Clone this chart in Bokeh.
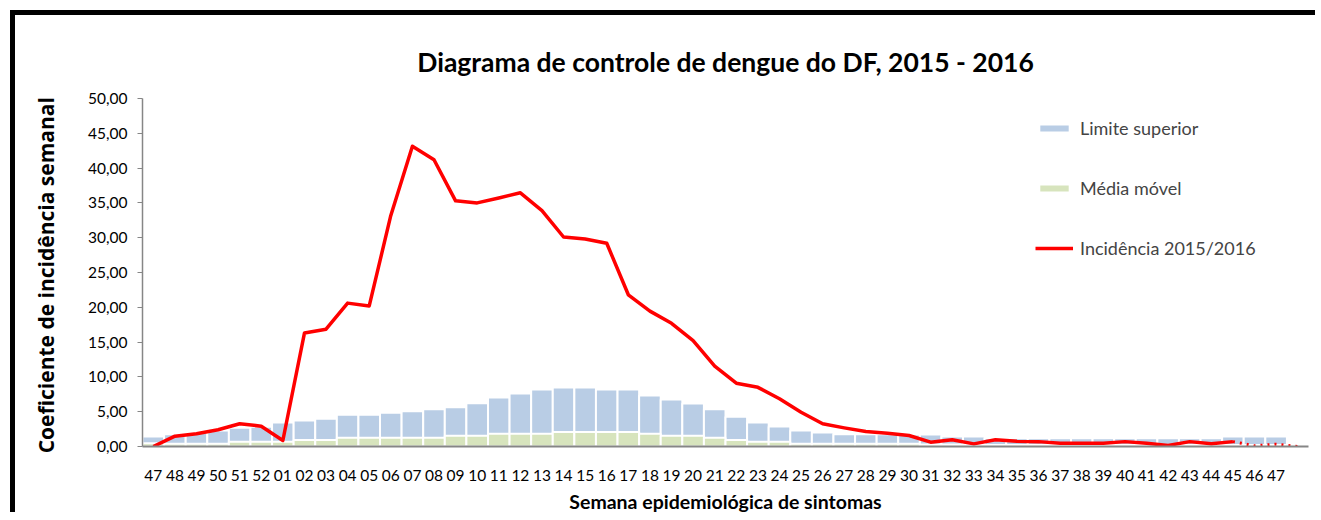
from bokeh.plotting import figure
from bokeh.models import (Range1d, FixedTicker, Legend, LegendItem,
                          ColumnDataSource, SingleIntervalTicker)
from bokeh.embed import file_html
from bokeh.resources import INLINE

# ---------------- data ----------------
week_labels = ["47", "48", "49", "50", "51", "52",
               "01", "02", "03", "04", "05", "06", "07", "08", "09", "10",
               "11", "12", "13", "14", "15", "16", "17", "18", "19", "20",
               "21", "22", "23", "24", "25", "26", "27", "28", "29", "30",
               "31", "32", "33", "34", "35", "36", "37", "38", "39", "40",
               "41", "42", "43", "44", "45", "46", "47"]

limite_superior = [1.44, 1.77, 1.96, 2.30, 2.68, 2.82,
                   3.45, 3.74, 3.97, 4.55, 4.55, 4.84, 5.08, 5.36, 5.65, 6.23,
                   7.04, 7.62, 8.19, 8.48, 8.48, 8.19, 8.19, 7.33, 6.75, 6.18,
                   5.36, 4.26, 3.45, 2.87, 2.30, 2.01, 1.77, 1.77, 1.77, 1.72,
                   1.72, 1.44, 1.44, 1.20, 1.20, 1.20, 1.20, 1.20, 1.20, 1.20,
                   1.20, 1.20, 1.20, 1.20, 1.44, 1.44, 1.44]

media_movel = [0.45, 0.40, 0.40, 0.40, 0.70, 0.70,
               0.70, 0.95, 0.95, 1.25, 1.25, 1.25, 1.25, 1.25, 1.53, 1.53,
               1.82, 1.82, 1.82, 2.10, 2.10, 2.10, 2.10, 1.82, 1.53, 1.53,
               1.25, 0.95, 0.67, 0.67, 0.38, 0.38, 0.38, 0.38, 0.38, 0.38,
               0.30, 0.30, 0.25, 0.20, 0.20, 0.20, 0.20, 0.20, 0.20, 0.20,
               0.20, 0.20, 0.20, 0.20, 0.20, 0.20, 0.20]

incidencia = [0.00, 1.48, 1.82, 2.40, 3.26, 2.92,
              0.86, 16.30, 16.85, 20.60, 20.20, 33.20, 43.15, 41.20, 35.30, 35.00,
              35.70, 36.45, 33.90, 30.10, 29.80, 29.20, 21.80, 19.45, 17.70, 15.20,
              11.55, 9.10, 8.50, 6.85, 4.93, 3.26, 2.68, 2.15, 1.92, 1.58,
              0.62, 0.96, 0.38, 0.96, 0.75, 0.70, 0.45, 0.45, 0.45, 0.70,
              0.45, 0.15, 0.70, 0.40, 0.70]

# projected (dotted) continuation from week 45 onward
incidencia_proj = [0.70, 0.10, 0.33, 0.00]

# ---------------- figure ----------------
FONT = "Lato"
BLUE = "#B9CDE5"
GREEN = "#D7E4BD"
RED = "#FF0000"
AXIS = "#868686"

n_cat = len(week_labels) + 1  # one extra unlabeled slot at the end

p = figure(width=1300, height=502, output_backend="svg", toolbar_location=None,
           x_range=Range1d(-0.5, n_cat - 0.5), y_range=Range1d(0, 50),
           min_border_left=127, min_border_right=7, min_border_top=83,
           min_border_bottom=71)

# black frame (top and left edges visible, as in the cropped original)
p.styles = {"margin-left": "15px", "margin-top": "15px",
            "box-shadow": "-5px -5px 0 0 black, 0 -5px 0 0 black"}

p.title.text = "Diagrama de controle de dengue do DF, 2015 - 2016"
p.title.align = "center"
p.title.text_font = FONT
p.title.text_font_size = "26.5px"
p.title.text_font_style = "bold"
p.title.text_color = "black"
p.title.standoff = 42

p.xgrid.visible = False
p.ygrid.visible = False
p.outline_line_color = None

x_idx = list(range(len(week_labels)))
src = ColumnDataSource(dict(x=x_idx, lim=limite_superior, med=media_movel))

r_lim = p.vbar(x="x", top="lim", bottom=0, width=1.0, source=src,
               fill_color=BLUE, line_color="white", line_width=2)
r_med = p.vbar(x="x", top="med", bottom=0, width=1.0, source=src,
               fill_color=GREEN, line_color="white", line_width=2)

r_inc = p.line(x=list(range(len(incidencia))), y=incidencia,
               line_color=RED, line_width=3.5, line_join="round")
proj_x = list(range(len(incidencia) - 1, len(incidencia) - 1 + len(incidencia_proj)))
p.line(x=proj_x, y=incidencia_proj, line_color=RED, line_width=3,
       line_dash="2 5")

# axes
xa = p.xaxis[0]
xa.ticker = FixedTicker(ticks=x_idx)
xa.major_label_overrides = {i: lab for i, lab in enumerate(week_labels)}
xa.major_tick_out = 0
xa.major_tick_in = 0
xa.minor_tick_out = 0
xa.minor_tick_in = 0
xa.axis_line_color = AXIS
xa.axis_line_width = 2
xa.major_label_text_font = FONT
xa.major_label_text_font_size = "15.5px"
xa.major_label_text_color = "black"
xa.major_label_standoff = 23
xa.axis_label = "Semana epidemiológica de sintomas"
xa.axis_label_text_font = FONT
xa.axis_label_text_font_size = "19.5px"
xa.axis_label_text_font_style = "bold"
xa.axis_label_text_color = "black"
xa.axis_label_standoff = 6

ya = p.yaxis[0]
ya.ticker = SingleIntervalTicker(interval=5)
ya.minor_tick_out = 0
ya.minor_tick_in = 0
ya.major_tick_out = 5
ya.major_tick_in = 0
ya.major_tick_line_color = AXIS
ya.axis_line_color = AXIS
ya.axis_line_width = 1.5
ya.major_label_overrides = {v: f"{v:.2f}".replace(".", ",") for v in range(0, 51, 5)}
ya.major_label_text_font = FONT
ya.major_label_text_font_size = "15.5px"
ya.major_label_text_color = "black"
ya.major_label_standoff = 10
ya.axis_label = "Coeficiente de incidência  semanal"
ya.axis_label_text_font = "Open Sans"
ya.axis_label_text_font_size = "21px"
ya.axis_label_text_font_style = "bold"
ya.axis_label_text_color = "black"
ya.axis_label_standoff = 25

# legend
legend = Legend(items=[LegendItem(label="Limite superior", renderers=[r_lim]),
                       LegendItem(label="Média móvel", renderers=[r_med]),
                       LegendItem(label="Incidência 2015/2016", renderers=[r_inc])],
                location=(893, 186), orientation="vertical")
legend.glyph_width = 38
legend.glyph_height = 10
legend.label_height = 24
legend.spacing = 36
legend.padding = 0
legend.margin = 0
legend.label_standoff = 7
legend.label_text_font = FONT
legend.label_text_font_size = "18px"
legend.border_line_color = None
legend.background_fill_alpha = 0
p.add_layout(legend)

open("out.html", "w").write(file_html(p, INLINE))
